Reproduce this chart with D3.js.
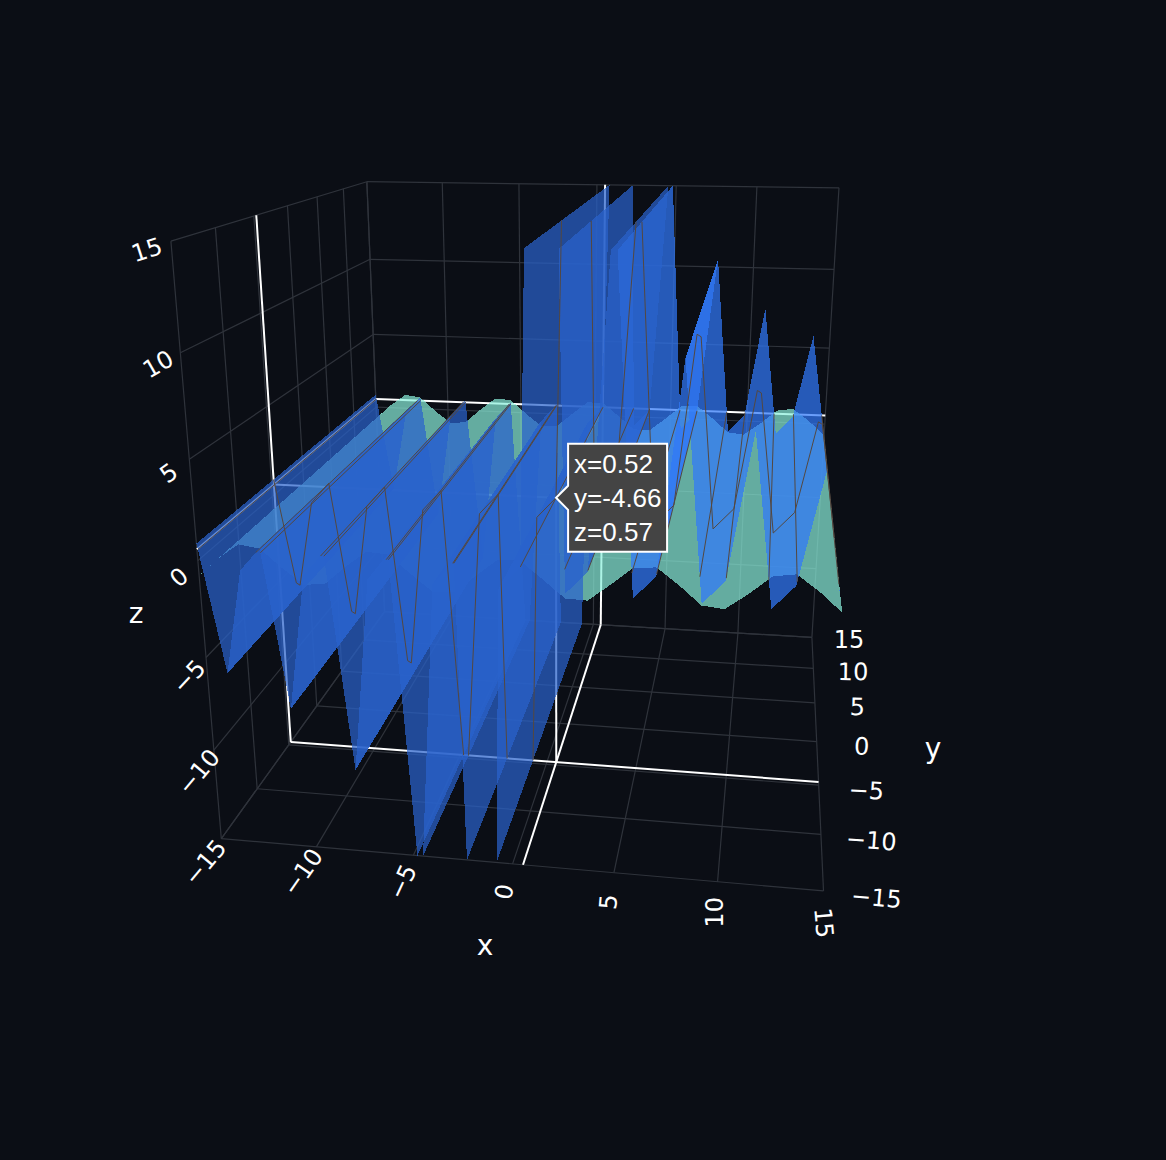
<!DOCTYPE html>
<html><head><meta charset="utf-8">
<style>html,body{margin:0;padding:0;background:#0b0e15}svg{display:block}</style>
<script src="https://cdn.jsdelivr.net/npm/d3@7/dist/d3.min.js"></script>
</head><body><div id="chart"></div>
<script>
// ---- data ----
const xValues = [-15,-13.966,-12.931,-11.897,-10.862,-9.828,-8.793,-7.759,-6.724,-5.69,-4.655,-3.621,-2.586,-1.552,-0.517,0.517,1.552,2.586,3.621,4.655,5.69,6.724,7.759,8.793,9.828,10.862,11.897,12.931,13.966,15];
const yRange = [-15,15];
const zBlue = [0.86,-5.76,-0.38,0.79,-7.43,-0.43,0.73,-10.5,-0.47,0.67,-17.4,-0.52,0.62,-53,-0.57,0.57,53,-0.62,0.52,17.4,-0.67,0.47,10.5,-0.73,0.43,7.43,-0.79,0.38,5.76,-0.86];
const zTeal = [-0.76,0.17,0.93,0.78,-0.13,-0.92,-0.81,0.1,0.9,0.83,-0.06,-0.89,-0.85,0.02,0.87,0.87,0.02,-0.85,-0.89,-0.06,0.83,0.9,0.1,-0.81,-0.92,-0.13,0.78,0.93,0.17,-0.76];
const xTicks = [-15,-10,-5,0,5,10,15];
const yTicks = [-15,-10,-5,0,5,10,15];
const zTicks = [-15,-10,-5,0,5,10,15];
const zLabelTicks = [-10,-5,0,5,10,15];
const hover = {x:0.52, y:-4.66, z:0.57};
const hoverLines = ["x=0.52","y=-4.66","z=0.57"];

// ---- view calibration: where known box points land on the page ----
const viewAnchors = [
[-15,-15,15,171,240],[-15,15,15,367,181],[15,15,15,839,187],[-15,-15,-15,221,838],[15,-15,-15,823,891],[15,15,-15,812,637],
[-10,-15,-15,317,847],[-5,-15,-15,415,855],[0,-15,-15,513,864],[5,-15,-15,614,873],[10,-15,-15,718,882],
[-15,-10,-15,257,788],[-15,-5,-15,288,745],[-15,0,-15,317,705],
[15,10,-15,814,669],[15,5,-15,815,703],[15,0,-15,816,742],[15,-10,-15,821,835],
[-15,-10,15,215,228],[-15,0,15,287,206],[-15,5,15,317,197],[-15,10,15,343,189],
[-10,15,15,443,183],[-5,15,15,519,184],[0,15,15,597,185],[5,15,15,676,187],[10,15,15,757,187],
[-15,15,10,370,258],[-15,15,5,373,333],[15,15,10,834,269],[15,15,5,829,348],
[-15,-15,10,181,353],[-15,-15,5,189,458],[-15,-15,-5,206,657],[-15,-15,-10,213,750],
[0.52,-4.66,0.57,556,497],[0.52,-4.66,-15,555,762],[-15,-15,0.86,197,548],[15,-15,-0.86,842,613],[-15,15,0.86,376,397]
];

const W=1166,H=1160;
const sx=d3.scaleLinear().domain([-15,15]).range([-1,1]);
const sy=d3.scaleLinear().domain([-15,15]).range([-1,1]);
const sz=d3.scaleLinear().domain([-15,15]).range([-1,1]);

function solve(A,b){
  const n=b.length, M=A.map((r,i)=>[...r,b[i]]);
  for(let c=0;c<n;c++){
    let p=c; for(let r=c+1;r<n;r++) if(Math.abs(M[r][c])>Math.abs(M[p][c])) p=r;
    [M[c],M[p]]=[M[p],M[c]];
    for(let r=0;r<n;r++){ if(r===c) continue; const f=M[r][c]/M[c][c]; for(let k=c;k<=n;k++) M[r][k]-=f*M[c][k]; }
  }
  return M.map((r,i)=>r[n]/r[i]);
}
function fitCamera(){
  const rows=[],rhs=[];
  viewAnchors.forEach(([x,y,z,u,v])=>{
    const X=sx(x),Y=sy(y),Z=sz(z),U=u/1000,V=v/1000;
    rows.push([X,Y,Z,1,0,0,0,0,-U*X,-U*Y,-U*Z]);rhs.push(U);
    rows.push([0,0,0,0,X,Y,Z,1,-V*X,-V*Y,-V*Z]);rhs.push(V);
  });
  const n=11,A=d3.range(n).map(()=>new Array(n).fill(0)),b=new Array(n).fill(0);
  rows.forEach((r,i)=>{for(let a=0;a<n;a++){b[a]+=r[a]*rhs[i];for(let c=0;c<n;c++)A[a][c]+=r[a]*r[c];}});
  return solve(A,b);
}
const P=fitCamera();
function project(x,y,z){
  const X=sx(x),Y=sy(y),Z=sz(z);
  const w=P[8]*X+P[9]*Y+P[10]*Z+1;
  return {u:1000*(P[0]*X+P[1]*Y+P[2]*Z+P[3])/w, v:1000*(P[4]*X+P[5]*Y+P[6]*Z+P[7])/w, w};
}
const pathOf=pts=>"M"+pts.map(p=>{const q=project(p[0],p[1],p[2]);return q.u.toFixed(2)+","+q.v.toFixed(2);}).join("L");

function clipZ(poly){
  let out=poly;
  [[15,1],[-15,-1]].forEach(([lim,s])=>{
    const res=[];
    out.forEach((a,i)=>{
      const b=out[(i+1)%out.length];
      const ia=s*(a[2]-lim)<=0, ib=s*(b[2]-lim)<=0;
      if(ia) res.push(a);
      if(ia!==ib){const t=(lim-a[2])/(b[2]-a[2]);res.push([a[0]+t*(b[0]-a[0]),a[1]+t*(b[1]-a[1]),lim]);}
    });
    out=res;
  });
  return out;
}

const svg=d3.select("#chart").append("svg").attr("width",W).attr("height",H).style("background","#0b0e15");
const gridColor="#2f333b";
const lines=[];
xTicks.forEach(t=>{lines.push([[t,-15,-15],[t,15,-15]]);lines.push([[t,15,-15],[t,15,15]]);});
yTicks.forEach(t=>{lines.push([[-15,t,-15],[15,t,-15]]);lines.push([[-15,t,-15],[-15,t,15]]);});
zTicks.forEach(t=>{lines.push([[-15,-15,t],[-15,15,t]]);lines.push([[-15,15,t],[15,15,t]]);});
svg.append("g").selectAll("path").data(lines).join("path")
  .attr("d",pathOf).attr("fill","none").attr("stroke",gridColor).attr("stroke-width",1.2);

// spikes
const h=hover;
const spikes=[
 [[-15,h.y,-15],[15,h.y,-15]],[[h.x,-15,-15],[h.x,15,-15]],[[-15,h.y,-15],[-15,h.y,15]],
 [[h.x,15,-15],[h.x,15,15]],[[-15,15,h.z],[15,15,h.z]],[[-15,-15,h.z],[-15,15,h.z]],
 [[h.x,h.y,h.z],[h.x,h.y,-15]],[[h.x,h.y,h.z],[-15,h.y,h.z]],[[h.x,h.y,h.z],[h.x,15,h.z]]
];
svg.append("g").selectAll("path").data(spikes).join("path")
  .attr("d",pathOf).attr("fill","none").attr("stroke","#fff").attr("stroke-width",2);

// surfaces: the teal one is laid down first, the blue one over it
const sign=project(0,15,0).w>project(0,-15,0).w?1:-1;
[{z:zTeal,neg:"#8af0dc",pos:"#8af0dc",alpha:0.7},{z:zBlue,neg:"#2a62cc",pos:"#3078f8",alpha:0.72}].forEach(s=>{
  const faces=[];
  for(let i=0;i<xValues.length-1;i++){
    const y0=yRange[0],y1=yRange[1];
    const poly=clipZ([[xValues[i],y0,s.z[i]],[xValues[i+1],y0,s.z[i+1]],[xValues[i+1],y1,s.z[i+1]],[xValues[i],y1,s.z[i]]]);
    if(poly.length<3) continue;
    const depth=d3.mean(poly,p=>project(p[0],p[1],p[2]).w);
    faces.push({poly,depth,fill:xValues[i]<4.5?s.neg:s.pos});
  }
  faces.sort((a,b)=>sign*(b.depth-a.depth));
  svg.append("g").selectAll("path").data(faces).join("path")
    .attr("d",d=>pathOf(d.poly)+"Z").attr("fill",d=>d.fill).attr("fill-opacity",s.alpha)
    .attr("shape-rendering","crispEdges");
});

// highlighted contours of the hovered surface
const contour=[];
const cut=0.1;
const isTip=i=>i>0&&i<zBlue.length-1&&Math.abs(zBlue[i])>2&&Math.abs(zBlue[i])<15;
for(let i=0;i<xValues.length-1;i++){
  const a=zBlue[i],b=zBlue[i+1];
  let A=[xValues[i],h.y,a],B=[xValues[i+1],h.y,b];
  const lerp=(P0,P1,t)=>[P0[0]+t*(P1[0]-P0[0]),h.y,P0[2]+t*(P1[2]-P0[2])];
  const A2=isTip(i)?lerp(A,B,cut):A, B2=isTip(i+1)?lerp(B,A,cut):B;
  const c=clipZ([A2,B2]);
  if(c.length>=2) contour.push([c[0],c[1]]);
  if(isTip(i+1)){
    const next=[xValues[i+2],h.y,zBlue[i+2]];
    contour.push([B2,lerp(B,next,cut)]);
  }
  if((a-h.z)*(b-h.z)<0){
    const t=(h.z-a)/(b-a),x=xValues[i]+t*(xValues[i+1]-xValues[i]);
    contour.push([[x,-15,h.z],[x,15,h.z]]);
  }
}
contour.push([[h.x,-15,h.z],[h.x,15,h.z]]);
svg.append("g").selectAll("path").data(contour).join("path")
  .attr("d",pathOf).attr("fill","none").attr("stroke","#544840").attr("stroke-width",1);

// tick labels
const font="'DejaVu Sans',sans-serif";
const fmt=t=>t<0?"\u2212"+Math.abs(t):String(t);
function labels(cls,data,anchor){
  svg.append("g").attr("class",cls).selectAll("text").data(data).join("text")
    .attr("transform",d=>{const a=anchor(d);return `translate(${a[0]},${a[1]}) rotate(${a[2]})`;})
    .attr("text-anchor","middle").attr("dominant-baseline","central")
    .attr("fill","#fff").attr("font-family",font).attr("font-size",24).text(fmt);
}
const zLx=d3.scaleLinear().domain([-10,15]).range([-15,-24]);
const zLy=d3.scaleLinear().domain([-10,15]).range([22,9]);
const zLr=d3.scaleLinear().domain([-10,-5,0,5,10,15]).range([-50,-47,-40,-35,-30,-18]);
labels("ztick",zLabelTicks,t=>{const p=project(-15,-15,t);return [p.u+zLx(t),p.v+zLy(t),zLr(t)];});
const xLr=d3.scaleOrdinal().domain(xTicks).range([-50,-55,-65,-78,-85,-90,85]);
const xLy=d3.scaleLinear().domain([-15,15]).range([24,32]);
const xLx=d3.scaleLinear().domain([-15,15]).range([-16,0]);
labels("xtick",xTicks,t=>{const p=project(t,-15,-15);return [p.u+xLx(t),p.v+xLy(t),xLr(t)];});
const yLx=d3.scaleLinear().domain([-15,15]).range([53,37]);
const yLy=d3.scaleLinear().domain([-15,15]).range([7,3]);
const yLr=d3.scaleLinear().domain([-15,15]).range([5,0]);
labels("ytick",yTicks,t=>{const p=project(15,t,-15);return [p.u+yLx(t),p.v+yLy(t),yLr(t)];});
const titleData=[["x",485,945],["y",933,748],["z",136,613]];
svg.append("g").selectAll("text").data(titleData).join("text")
  .attr("x",d=>d[1]).attr("y",d=>d[2]).attr("text-anchor","middle").attr("dominant-baseline","central")
  .attr("fill","#fff").attr("font-family",font).attr("font-size",28).text(d=>d[0]);

// hover label
const hp=project(h.x,h.y,h.z);
const bx=hp.u+12,bw=99,bh=108,by=hp.v-54;
const tip=svg.append("g");
tip.append("path").attr("d",`M${hp.u},${hp.v}L${bx},${hp.v-12}V${by}H${bx+bw}V${by+bh}H${bx}V${hp.v+12}Z`)
  .attr("fill","#444").attr("stroke","#fff").attr("stroke-width",2);
tip.selectAll("text").data(hoverLines).join("text")
  .attr("x",bx+6).attr("y",(d,i)=>by+29+i*34)
  .attr("fill","#fff").attr("font-family","'Liberation Sans',Arial,sans-serif").attr("font-size",26).text(d=>d);
</script></body></html>
